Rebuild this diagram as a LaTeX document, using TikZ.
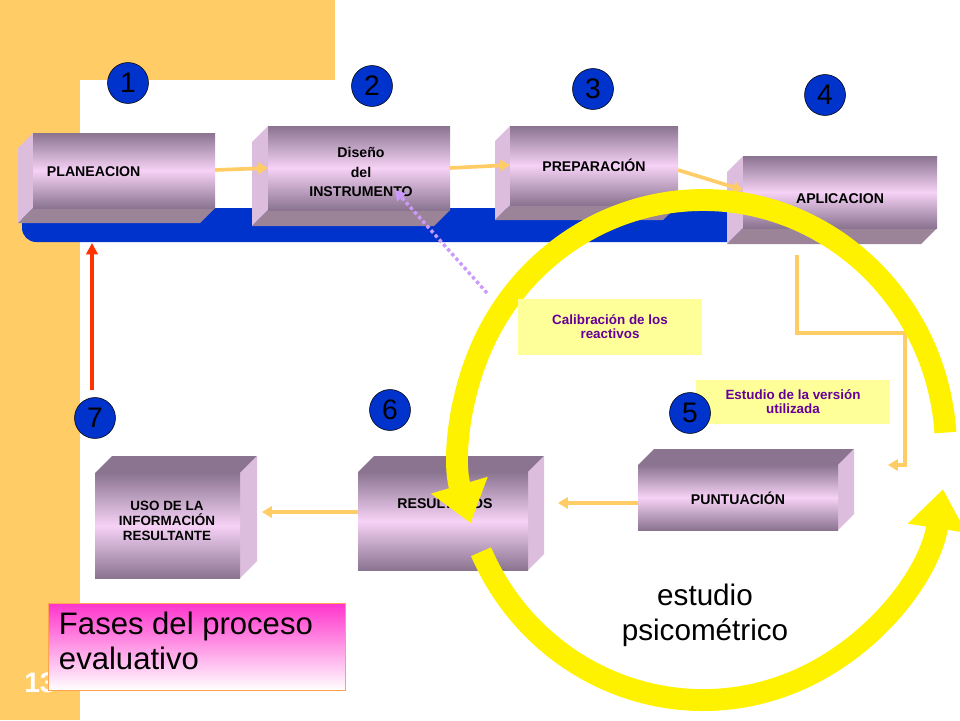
\documentclass[tikz,border=0pt]{standalone}
\usepackage{fontspec}
\setmainfont{Liberation Sans}
\usetikzlibrary{arrows.meta}
\definecolor{bgorange}{HTML}{FFCC66}
\definecolor{barblue}{HTML}{0033CC}
\definecolor{boxdark}{HTML}{8A7490}
\definecolor{boxlight}{HTML}{F6D2F6}
\definecolor{boxside}{HTML}{DDBDDD}
\definecolor{boxbase}{HTML}{9C8498}
\definecolor{notefill}{HTML}{FFFF99}
\definecolor{notetext}{HTML}{660099}
\definecolor{dotlilac}{HTML}{CC99FF}
\definecolor{titlepink}{HTML}{FF33CC}

\tikzset{
  boxfront/.style={top color=boxdark, bottom color=boxdark, middle color=boxlight},
  boxlabel/.style={font=\bfseries\fontsize{10}{12}\selectfont, align=center},
  numcircle/.style={circle, draw=black, fill=barblue, minimum size=29pt, inner sep=0pt, font=\fontsize{20}{20}\selectfont},
  flow/.style={draw=bgorange, line width=2.6pt, -{Triangle[length=7pt,width=8pt]}},
  note/.style={fill=notefill, text=notetext, font=\bfseries\fontsize{9.5}{10}\selectfont, align=center},
  ring/.style={draw=yellow, line width=15.5pt},
}

% front face x1,y1,x2,y2 ; depth towards lower left
\newcommand\boxll[5]{%
  \fill[boxside] (#1,#2) -- (#1-#5,#2+#5) -- (#1-#5,#4+#5) -- (#1,#4) -- cycle;
  \fill[boxbase] (#1,#4) -- (#1-#5,#4+#5) -- (#3-#5,#4+#5) -- (#3,#4) -- cycle;
  \shade[boxfront] (#1,#2) rectangle (#3,#4);}
% front face x1,y1,x2,y2 ; depth towards upper right
\newcommand\boxur[5]{%
  \fill[boxdark] (#1,#2) -- (#1+#5,#2-#5) -- (#3+#5,#2-#5) -- (#3,#2) -- cycle;
  \fill[boxside] (#3,#2) -- (#3+#5,#2-#5) -- (#3+#5,#4-#5) -- (#3,#4) -- cycle;
  \shade[boxfront] (#1,#2) rectangle (#3,#4);}

\begin{document}
\begin{tikzpicture}[x=0.708pt, y=-0.708pt]
\useasboundingbox (0,0) rectangle (960,720);
% background
\fill[bgorange] (0,0) rectangle (335,80);
\fill[bgorange] (0,0) rectangle (80,720);
\fill[white, rounded corners=18pt] (80,80) rectangle (1010,780);
\fill[white] (335,0) rectangle (960,80);
\node[text=white, font=\bfseries\fontsize{20}{20}\selectfont] (page) at (40,683) {13};
% blue bar
\fill[barblue, rounded corners=10pt] (22,208) rectangle (760,242);
\fill[barblue] (22,208) rectangle (760,225);

% top row
\boxll{33}{133}{215}{208}{15}
\boxll{268}{126}{450}{210}{16}
\boxll{510}{126}{678}{205}{15}
\boxll{743}{156}{937}{228}{16}
\node[boxlabel, anchor=west] (plan) at (42,172) {PLANEACION};
\node[boxlabel] (dis) at (361,172) {Diseño\\[2pt]del\\[2pt]INSTRUMENTO};
\node[boxlabel] (prep) at (594,165) {PREPARACIÓN};
\node[boxlabel] (apl) at (840,199) {APLICACION};

% bottom row
\boxur{95}{473}{240}{578}{17}
\boxur{358}{472}{528}{570}{16}
\boxur{638}{465}{838}{530}{16}
\node[boxlabel, font=\bfseries\fontsize{9.5}{10.5}\selectfont] (uso) at (167,521) {USO DE LA\\INFORMACIÓN\\RESULTANTE};
\node[boxlabel] (res) at (445,504) {RESULTADOS};
\node[boxlabel] (pun) at (738,498) {PUNTUACIÓN};

% connector ends
\coordinate (planE) at (215,170);
\coordinate (disW) at (268,168);
\coordinate (disE) at (450,168);
\coordinate (prepW) at (510,165);
\coordinate (prepE) at (678,170);
\coordinate (aplW) at (743,190);
\coordinate (aplS) at (797,255);
\coordinate (punE) at (888,465);
\coordinate (punW) at (638,503);
\coordinate (resE) at (558,503);
\coordinate (resW) at (358,512);
\coordinate (usoE) at (262,512);
\coordinate (redS) at (92,390);
\coordinate (planS) at (92,243);
\coordinate (calNW) at (487,293);
\coordinate (disSE) at (395,190);

\draw[flow] (planE) -- (disW);
\draw[flow] (disE) -- (prepW);
\draw[flow] (prepE) -- (aplW);
\draw[flow, -{Triangle[length=7pt,width=8pt]}] (aplS) |- (905,333) |- (punE);
\draw[flow] (punW) -- (resE);
\draw[flow] (resW) -- (usoE);
\draw[draw={rgb,255:red,255;green,51;blue,0}, line width=2.4pt, -{Triangle[length=8pt,width=8pt]}] (redS) -- (planS);
\draw[dotlilac, line width=2.4pt, dotted, -{Triangle[length=7pt,width=8pt]}] (calNW) -- (disSE);

% psychometric ring
\coordinate (ctr) at (703,450);
\draw[ring, -{Triangle[length=28pt,width=40pt]}] (ctr) ++(156:243 and 250) arc[start angle=156, end angle=9, x radius=243, y radius=250];
\draw[ring, -{Triangle[length=28pt,width=40pt]}] (ctr) ++(-4:243 and 250) arc[start angle=-4, end angle=-197, x radius=243, y radius=250];

% notes
\node[note, minimum width=130pt, minimum height=39pt] (cal) at (610,327) {Calibración de los\\reactivos};
\node[note, minimum width=137pt, minimum height=31pt] (est) at (793,402) {Estudio de la versión\\utilizada};
\node[font=\fontsize{21}{25}\selectfont, align=center] (psi) at (705,615) {estudio\\psicométrico};

% numbers
\node[numcircle] (n1) at (128,83) {1};
\node[numcircle] (n2) at (372,86) {2};
\node[numcircle] (n3) at (593,89) {3};
\node[numcircle] (n4) at (825,95) {4};
\node[numcircle] (n5) at (690,413) {5};
\node[numcircle] (n6) at (390,410) {6};
\node[numcircle] (n7) at (95,418) {7};

% title
\shade[top color=titlepink, bottom color=white, draw=bgorange!80!red] (48,603) rectangle (345,690);
\node[anchor=north west, align=left, font=\fontsize{22}{25}\selectfont] (title) at (54,607) {Fases del proceso\\evaluativo};
\end{tikzpicture}
\end{document}
